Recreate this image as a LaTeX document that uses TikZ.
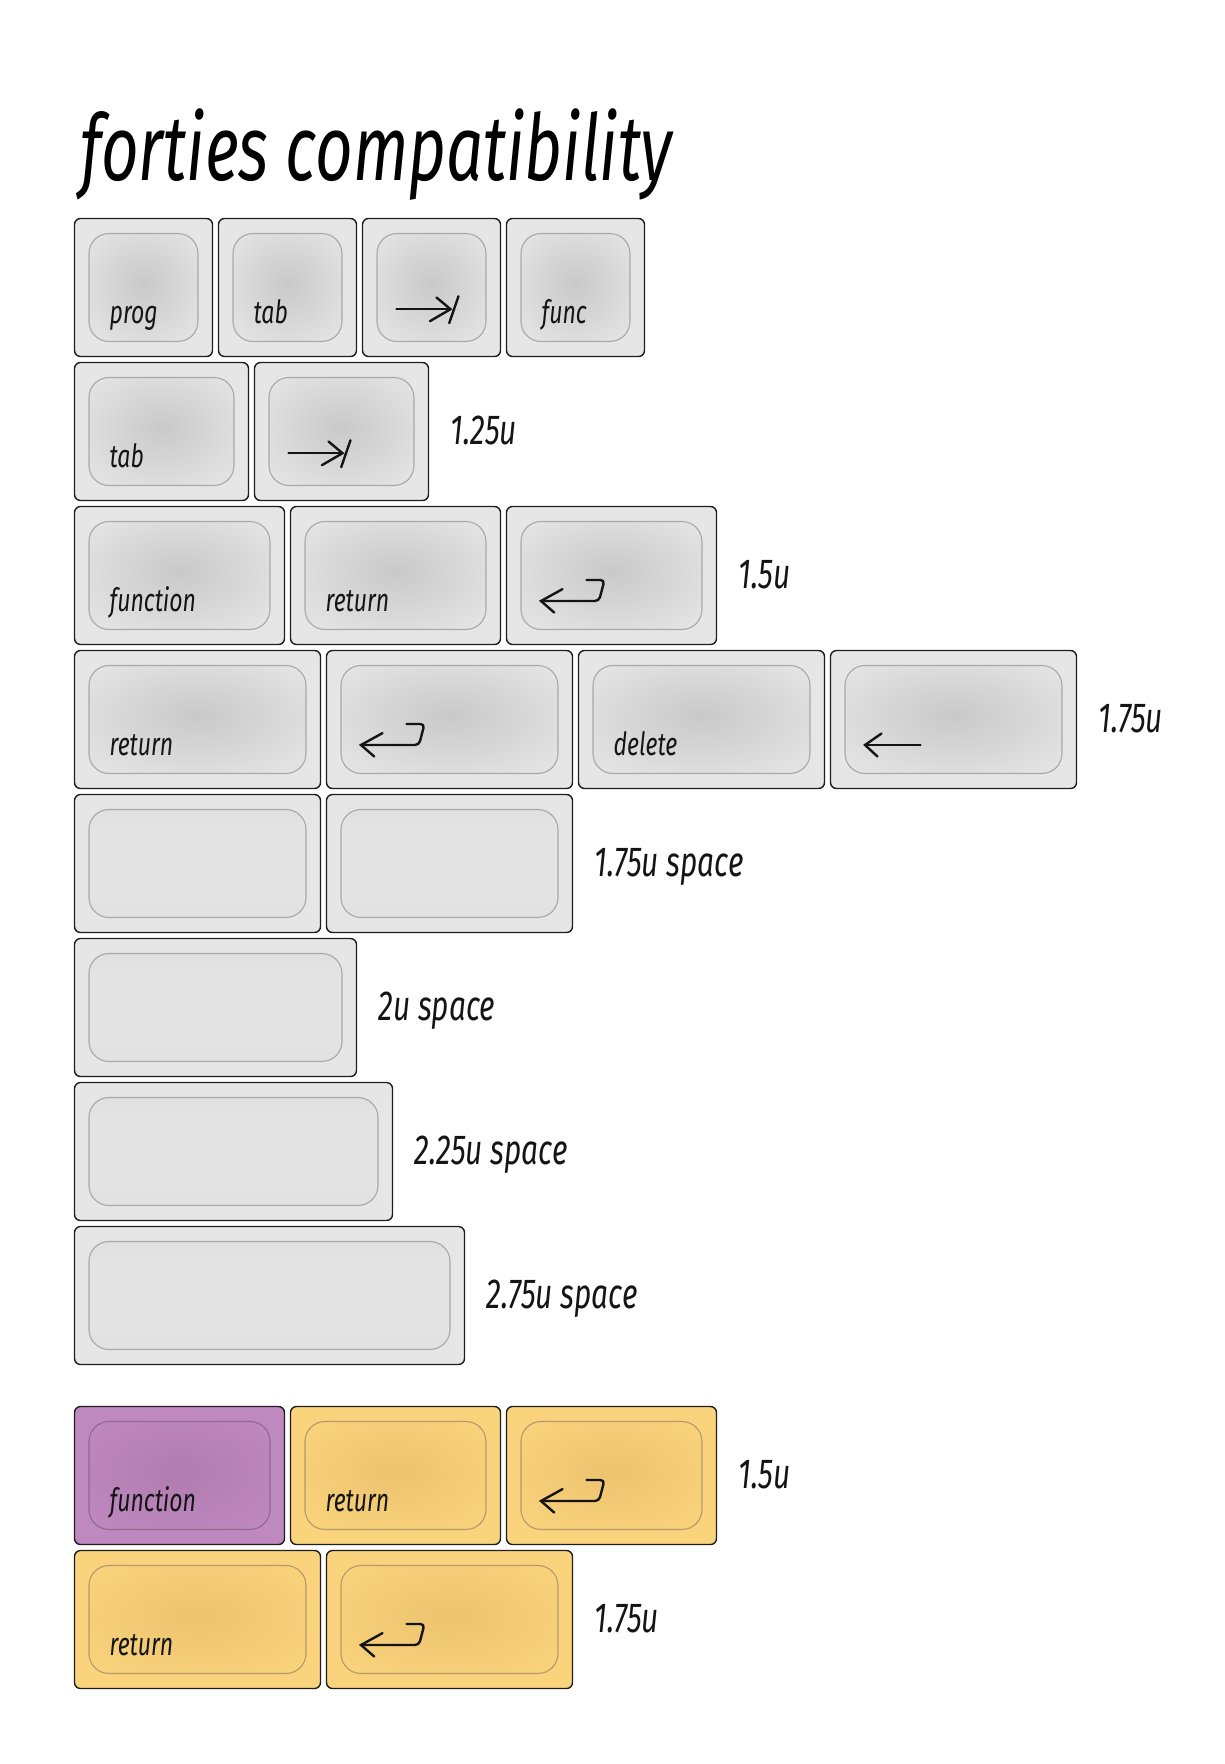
\documentclass[tikz,border=0pt]{standalone}
\usepackage{fontspec}
\setmainfont{Fira Sans}
\newfontfamily\titlefam{Fira Sans}[FakeStretch=0.71]
\newfontfamily\legfam{Fira Sans}[FakeStretch=0.72]
\newfontfamily\lblfam{Fira Sans}[FakeStretch=0.71]
\usetikzlibrary{calc}
\definecolor{keyline}{HTML}{1E1E1E}
\definecolor{grayO}{HTML}{E6E6E6}
\definecolor{grayC}{HTML}{C9C9C9}
\definecolor{grayE}{HTML}{E3E3E3}
\definecolor{grayL}{HTML}{A8A8A8}
\definecolor{spT}{HTML}{D8D8D8}
\definecolor{spM}{HTML}{E4E4E4}
\definecolor{spB}{HTML}{D9D9D9}
\definecolor{purO}{HTML}{BF89BF}
\definecolor{purC}{HTML}{B07CB0}
\definecolor{purE}{HTML}{BE88BE}
\definecolor{purL}{HTML}{8E6A8E}
\definecolor{yelO}{HTML}{FAD37D}
\definecolor{yelC}{HTML}{EDC36E}
\definecolor{yelE}{HTML}{F9D27C}
\definecolor{yelL}{HTML}{B49A68}
\pgfdeclareradialshading{capgray}{\pgfpoint{0bp}{2bp}}{color(0bp)=(grayC); color(32bp)=(grayE); color(50bp)=(grayE)}
\pgfdeclareradialshading{cappur}{\pgfpoint{0bp}{2bp}}{color(0bp)=(purC); color(32bp)=(purE); color(50bp)=(purE)}
\pgfdeclareradialshading{capyel}{\pgfpoint{0bp}{2bp}}{color(0bp)=(yelC); color(32bp)=(yelE); color(50bp)=(yelE)}
\pgfdeclareverticalshading{capspace}{100bp}{color(0bp)=(spB); color(35bp)=(spM); color(65bp)=(spM); color(100bp)=(spT)}
\tikzset{
  outerbase/.style={draw=keyline, line width=1.4pt, rounded corners=6pt, inner sep=0pt, outer sep=0pt},
  outer-gray/.style={outerbase, fill=grayO},
  outer-space/.style={outerbase, fill=grayO},
  outer-pur/.style={outerbase, fill=purO},
  outer-yel/.style={outerbase, fill=yelO},
  capbase/.style={line width=1.1pt, rounded corners=20pt, inner sep=0pt, outer sep=0pt},
  cap-gray/.style={capbase, draw=grayL, shading=capgray},
  cap-space/.style={capbase, draw=grayL, shading=capspace},
  cap-pur/.style={capbase, draw=purL, shading=cappur},
  cap-yel/.style={capbase, draw=yelL, shading=capyel},
  legend/.style={inner sep=0pt, font=\legfam\fontsize{32}{32}\selectfont\itshape, text=black!92},
  lbl/.style={inner sep=0pt, font=\lblfam\fontsize{42}{42}\selectfont\itshape, text=black!92},
  titlef/.style={inner sep=0pt, font=\titlefam\fontsize{92}{92}\selectfont\itshape, text=black},
  symb/.style={draw=black!92, line width=2.4pt, line cap=round}
}
% name, column offset (units), top y, width (units), scheme
\newcommand\kblank[5]{%
  \pgfmathsetmacro\kx{74.5+#2*144}%
  \pgfmathsetmacro\kw{#4*144-6}%
  \pgfmathsetmacro\cw{\kw-29}%
  \node[outer-#5, minimum width=\kw pt, minimum height=138pt, anchor=north west] (#1) at (\kx,#3) {};
  \node[cap-#5, minimum width=\cw pt, minimum height=108pt, anchor=north west] (#1c) at ([xshift=14.5pt,yshift=-15pt]#1.north west) {};
}
\newcommand\kkey[6]{%
  \kblank{#1}{#2}{#3}{#4}{#5}
  \node[legend, anchor=base west] (#1t) at ([xshift=35pt,yshift=-104.5pt]#1.north west) {#6};
}
\newcommand\tabsym[1]{%
  \begin{scope}[shift={(#1.north west)}]
    \draw[symb] (34,90.7) -- (87,90.7);
    \draw[symb] (74,79) -- (88,90.7) -- (67.4,102.7);
    \draw[symb] (96,77.7) -- (86.7,104.7);
  \end{scope}}
\newcommand\retsym[1]{%
  \begin{scope}[shift={(#1.north west)}]
    \draw[symb, rounded corners=4pt] (80,73.5) -- (98,73.5) -- (92.5,94.5) -- (34.5,94.5);
    \draw[symb] (56,82.6) -- (34.5,94.5) -- (47.7,106);
  \end{scope}}
\newcommand\leftsym[1]{%
  \begin{scope}[shift={(#1.north west)}]
    \draw[symb] (34.5,94.5) -- (90,94.5);
    \draw[symb] (51,83) -- (34.5,94.5) -- (47,106);
  \end{scope}}
\newcommand\sidelabel[2]{%
  \node[lbl, anchor=base west] (#1l) at ([xshift=22pt,yshift=-13pt]#1.east) {#2};
}
\begin{document}
\begin{tikzpicture}[x=1pt,y=-1pt]
\path[use as bounding box, fill=white] (0,0) rectangle (1224,1764);
\node[titlef, anchor=base west] (title) at (80,180) {forties compatibility};
% row 1
\kkey{ra}{0}{218.5}{1}{gray}{prog}
\kkey{rb}{1}{218.5}{1}{gray}{tab}
\kblank{rc}{2}{218.5}{1}{gray}\tabsym{rc}
\kkey{rd}{3}{218.5}{1}{gray}{func}
% row 2
\kkey{sa}{0}{362.5}{1.25}{gray}{tab}
\kblank{sb}{1.25}{362.5}{1.25}{gray}\tabsym{sb}
\sidelabel{sb}{1.25u}
% row 3
\kkey{ta}{0}{506.5}{1.5}{gray}{function}
\kkey{tb}{1.5}{506.5}{1.5}{gray}{return}
\kblank{tc}{3}{506.5}{1.5}{gray}\retsym{tc}
\sidelabel{tc}{1.5u}
% row 4
\kkey{ua}{0}{650.5}{1.75}{gray}{return}
\kblank{ub}{1.75}{650.5}{1.75}{gray}\retsym{ub}
\kkey{uc}{3.5}{650.5}{1.75}{gray}{delete}
\kblank{ud}{5.25}{650.5}{1.75}{gray}\leftsym{ud}
\sidelabel{ud}{1.75u}
% row 5
\kblank{va}{0}{794.5}{1.75}{space}
\kblank{vb}{1.75}{794.5}{1.75}{space}
\sidelabel{vb}{1.75u space}
% row 6
\kblank{wa}{0}{938.5}{2}{space}
\sidelabel{wa}{2u space}
% row 7
\kblank{xa}{0}{1082.5}{2.25}{space}
\sidelabel{xa}{2.25u space}
% row 8
\kblank{ya}{0}{1226.5}{2.75}{space}
\sidelabel{ya}{2.75u space}
% row 9
\kkey{za}{0}{1406.5}{1.5}{pur}{function}
\kkey{zb}{1.5}{1406.5}{1.5}{yel}{return}
\kblank{zc}{3}{1406.5}{1.5}{yel}\retsym{zc}
\sidelabel{zc}{1.5u}
% row 10
\kkey{qa}{0}{1550.5}{1.75}{yel}{return}
\kblank{qb}{1.75}{1550.5}{1.75}{yel}\retsym{qb}
\sidelabel{qb}{1.75u}
\end{tikzpicture}
\end{document}
